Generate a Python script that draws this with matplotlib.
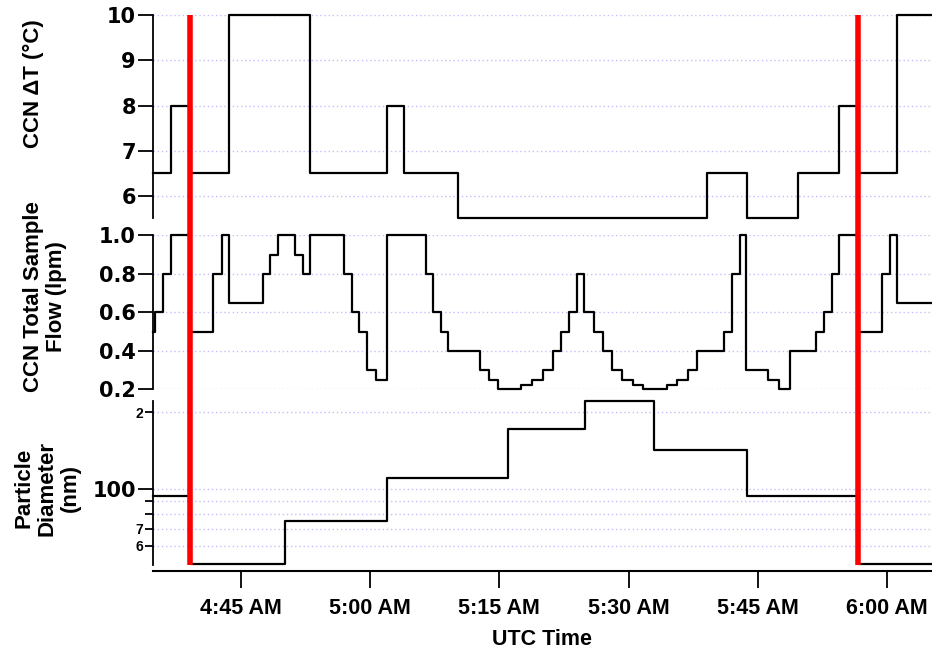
import matplotlib
matplotlib.use("Agg")
import matplotlib.pyplot as plt
import matplotlib.transforms as mtransforms
from matplotlib.lines import Line2D
from matplotlib.ticker import FixedLocator, FuncFormatter, NullLocator

plt.rcParams['font.family'] = ['Liberation Sans', 'DejaVu Sans']
plt.rcParams['font.weight'] = 'bold'

# times are minutes after 04:00 UTC; each value holds until the next time
dt_times = [34.8, 36.9, 39.2, 43.6, 53.0, 62.0, 64.0, 70.2, 99.1, 103.7,
            109.7, 114.4, 116.6, 121.1, 125.2]
dt_values = [6.5, 8, 6.5, 10, 6.5, 8, 6.5, 5.5, 6.5, 5.5,
             6.5, 8, 6.5, 10, 10]

flow_times = [34.8, 35.06, 36.02, 36.91, 39.12, 41.82, 42.80, 43.61, 47.55, 48.40,
              49.33, 51.30, 52.19, 53.04, 56.95, 57.88, 58.76, 59.62, 60.70, 62.01,
              66.50, 67.34, 68.24, 69.08, 72.76, 73.84, 74.88, 77.48, 78.76, 80.03,
              81.19, 82.12, 83.12, 83.98, 84.83, 85.99, 87.06, 88.04, 89.20, 90.48,
              91.64, 94.42, 95.65, 96.93, 97.97, 101.07, 102.03, 102.92, 103.62, 106.21,
              107.48, 108.72, 111.74, 112.67, 113.63, 114.44, 116.69, 119.36, 120.32, 121.17,
              125.2]
flow_values = [0.5, 0.6, 0.8, 1.0, 0.5, 0.8, 1.0, 0.65, 0.8, 0.9,
               1.0, 0.9, 0.8, 1.0, 0.8, 0.6, 0.5, 0.3, 0.25, 1.0,
               0.8, 0.6, 0.5, 0.4, 0.3, 0.25, 0.2, 0.22, 0.25, 0.3,
               0.4, 0.5, 0.6, 0.8, 0.6, 0.5, 0.4, 0.3, 0.25, 0.22,
               0.2, 0.22, 0.25, 0.3, 0.4, 0.5, 0.8, 1.0, 0.3, 0.25,
               0.2, 0.4, 0.5, 0.6, 0.8, 1.0, 0.5, 0.8, 1.0, 0.65,
               0.65]

diam_times = [34.8, 39.2, 50.1, 62.0, 76.0, 84.9, 93.0, 103.7, 116.6, 125.2]
diam_values = [94, 51, 75, 111, 172, 222, 142, 94, 51, 51]

event_times = [39.15, 116.65]

xtick_pos = [45, 60, 75, 90, 105, 120]
xtick_labels = ['4:45 AM', '5:00 AM', '5:15 AM', '5:30 AM', '5:45 AM', '6:00 AM']

dt_ticks = [6, 7, 8, 9, 10]
flow_ticks = [0.2, 0.4, 0.6, 0.8, 1.0]
diam_major = [100]
diam_minor = [60, 70, 80, 90, 200]
diam_minor_labels = {60: '6', 70: '7', 200: '2'}

grid_color = '#c0c0ff'
xlim = (34.79, 125.2)

fig = plt.figure(figsize=(9.32, 6.51), dpi=100)
ax1 = fig.add_axes([0.1638, 0.6644, 0.8362, 0.3121])
ax2 = fig.add_axes([0.1638, 0.4020, 0.8362, 0.2366])
ax3 = fig.add_axes([0.1638, 0.1321, 0.8362, 0.2524])

ax1.plot(dt_times, dt_values, drawstyle='steps-post', color='black', lw=1.6, clip_on=False)
ax2.plot(flow_times, flow_values, drawstyle='steps-post', color='black', lw=1.6, clip_on=False)
ax3.plot(diam_times, diam_values, drawstyle='steps-post', color='black', lw=1.6, clip_on=False)

ax1.set_ylim(5.5, 10)
ax1.set_yticks(dt_ticks)
ax1.set_yticklabels([str(t) for t in dt_ticks])

ax2.set_ylim(0.2, 1.0)
ax2.set_yticks(flow_ticks)
ax2.set_yticklabels(['%.1f' % t for t in flow_ticks])

ax3.set_yscale('log')
ax3.set_ylim(50.5, 222)
ax3.yaxis.set_major_locator(FixedLocator(diam_major))
ax3.yaxis.set_major_formatter(FuncFormatter(lambda v, p: '%d' % round(v)))
ax3.yaxis.set_minor_locator(FixedLocator(diam_minor))
ax3.yaxis.set_minor_formatter(FuncFormatter(lambda v, p: diam_minor_labels.get(int(round(v)), '')))

for ax in (ax1, ax2, ax3):
    ax.set_xlim(*xlim)
    ax.set_facecolor('none')
    ax.spines['top'].set_visible(False)
    ax.spines['right'].set_visible(False)
    ax.spines['left'].set_linewidth(1.3)
    ax.yaxis.grid(True, which='both', color=grid_color, linestyle=(0, (1, 2)), linewidth=1.0)
    ax.set_axisbelow(True)
    ax.tick_params(axis='y', which='major', direction='out', length=11, width=1.3, pad=1)
    for lab in ax.get_yticklabels():
        lab.set_family('DejaVu Sans')
        lab.set_fontsize(15)
        lab.set_fontweight('bold')

for ax in (ax1, ax2):
    ax.spines['bottom'].set_visible(False)
    ax.xaxis.set_major_locator(NullLocator())

ax3.tick_params(axis='y', which='minor', direction='out', length=6, width=1.3, pad=1, labelsize=10)
ax3.spines['bottom'].set_position(('outward', 4))
ax3.spines['bottom'].set_linewidth(1.5)
ax3.set_xticks(xtick_pos)
ax3.set_xticklabels(xtick_labels, fontsize=15.5, fontweight='bold')
ax3.xaxis.set_minor_locator(NullLocator())
ax3.tick_params(axis='x', direction='out', length=12, width=1.3, pad=8)
ax3.set_xlabel('UTC Time', fontsize=15.5, fontweight='bold', labelpad=7)

# axis titles sit to the left of each panel
fig.text(33 / 932, 1 - 83.5 / 651, 'CCN ΔT (°C)', rotation=90, ha='center', va='center',
         fontsize=16, fontweight='bold')
fig.text(45 / 932, 1 - 297 / 651, 'CCN Total Sample\nFlow (lpm)', rotation=90, ha='center',
         va='center', fontsize=16, fontweight='bold', linespacing=1.1, multialignment='center')
fig.text(47 / 932, 1 - 488 / 651, 'Particle\nDiameter\n(nm)', rotation=90, ha='center',
         va='center', fontsize=16, fontweight='bold', linespacing=1.15, multialignment='center')

# red event markers running through all three panels
trans = mtransforms.blended_transform_factory(ax3.transData, fig.transFigure)
for t in event_times:
    fig.add_artist(Line2D([t, t], [0.1321, 0.9765], transform=trans, color='#ff0000',
                          lw=4, solid_capstyle='butt', zorder=10))

fig.savefig('out.png', dpi=100)
